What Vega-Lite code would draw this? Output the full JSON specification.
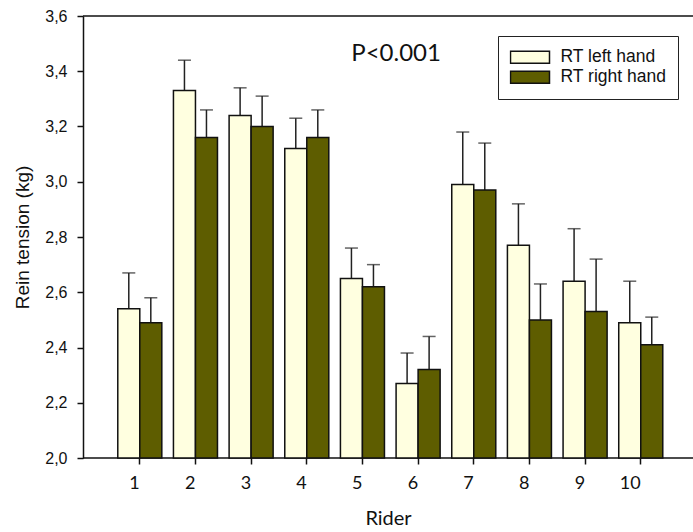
{
  "$schema": "https://vega.github.io/schema/vega-lite/v6.json",
  "width": 610,
  "height": 442,
  "autosize": {"type": "none"},
  "padding": {"left": 83, "top": 16, "right": 0, "bottom": 74},
  "background": "white",
  "config": {"view": {"stroke": null}},
  "data": {
    "values": [
      {"rider": 1, "hand": "RT left hand", "mean": 2.54, "upper": 2.67},
      {"rider": 1, "hand": "RT right hand", "mean": 2.49, "upper": 2.58},
      {"rider": 2, "hand": "RT left hand", "mean": 3.33, "upper": 3.44},
      {"rider": 2, "hand": "RT right hand", "mean": 3.16, "upper": 3.26},
      {"rider": 3, "hand": "RT left hand", "mean": 3.24, "upper": 3.34},
      {"rider": 3, "hand": "RT right hand", "mean": 3.20, "upper": 3.31},
      {"rider": 4, "hand": "RT left hand", "mean": 3.12, "upper": 3.23},
      {"rider": 4, "hand": "RT right hand", "mean": 3.16, "upper": 3.26},
      {"rider": 5, "hand": "RT left hand", "mean": 2.65, "upper": 2.76},
      {"rider": 5, "hand": "RT right hand", "mean": 2.62, "upper": 2.70},
      {"rider": 6, "hand": "RT left hand", "mean": 2.27, "upper": 2.38},
      {"rider": 6, "hand": "RT right hand", "mean": 2.32, "upper": 2.44},
      {"rider": 7, "hand": "RT left hand", "mean": 2.99, "upper": 3.18},
      {"rider": 7, "hand": "RT right hand", "mean": 2.97, "upper": 3.14},
      {"rider": 8, "hand": "RT left hand", "mean": 2.77, "upper": 2.92},
      {"rider": 8, "hand": "RT right hand", "mean": 2.50, "upper": 2.63},
      {"rider": 9, "hand": "RT left hand", "mean": 2.64, "upper": 2.83},
      {"rider": 9, "hand": "RT right hand", "mean": 2.53, "upper": 2.72},
      {"rider": 10, "hand": "RT left hand", "mean": 2.49, "upper": 2.64},
      {"rider": 10, "hand": "RT right hand", "mean": 2.41, "upper": 2.51}
    ]
  },
  "layer": [
    {
      "data": {"values": [{}]},
      "mark": {"type": "rule", "color": "#111", "strokeWidth": 1.5},
      "encoding": {"y": {"datum": 3.6}}
    },
    {
      "data": {"values": [{}]},
      "mark": {"type": "rule", "color": "#111", "strokeWidth": 1.5},
      "encoding": {"y": {"datum": 2.0}}
    },
    {
      "mark": {"type": "rule", "color": "#222", "strokeWidth": 1.5},
      "encoding": {
        "x": {"field": "rider", "type": "ordinal"},
        "xOffset": {"field": "hand", "type": "nominal"},
        "y": {"field": "mean", "type": "quantitative"},
        "y2": {"field": "upper"}
      }
    },
    {
      "mark": {"type": "tick", "color": "#222", "thickness": 1.5, "size": 13, "orient": "horizontal"},
      "encoding": {
        "x": {"field": "rider", "type": "ordinal"},
        "xOffset": {"field": "hand", "type": "nominal"},
        "y": {"field": "upper", "type": "quantitative"}
      }
    },
    {
      "mark": {"type": "bar", "stroke": "#111", "strokeWidth": 1.5},
      "encoding": {
        "x": {
          "field": "rider",
          "type": "ordinal",
          "scale": {"paddingInner": 0.209, "paddingOuter": 0.584, "align": 0.535},
          "axis": {
            "title": "Rider",
            "labelAngle": 0,
            "domain": false,
            "grid": false,
            "tickSize": 6,
            "tickColor": "#111",
            "tickWidth": 1.5,
            "labelFont": "Lato",
            "labelFontSize": 18,
            "labelColor": "#111",
            "labelPadding": 19,
            "titleFont": "Lato",
            "titleFontSize": 20,
            "titleFontWeight": "normal",
            "titleColor": "#111",
            "titlePadding": 16
          }
        },
        "xOffset": {"field": "hand", "type": "nominal", "scale": {"paddingInner": 0}},
        "y": {
          "field": "mean",
          "type": "quantitative",
          "scale": {"domain": [2, 3.6], "nice": false, "zero": false},
          "axis": {
            "values": [2, 2.2, 2.4, 2.6, 2.8, 3.0, 3.2, 3.4, 3.6],
            "labelExpr": "replace(format(datum.value, '.1f'), '.', ',')",
            "grid": false,
            "tickSize": 6,
            "tickColor": "#111",
            "tickWidth": 1.5,
            "domainColor": "#111",
            "domainWidth": 1.5,
            "labelFont": "Liberation Sans",
            "labelFontSize": 16,
            "labelColor": "#111",
            "labelPadding": 10,
            "title": "Rein tension (kg)",
            "titleFont": "Liberation Sans",
            "titleFontSize": 19,
            "titleFontWeight": "normal",
            "titleColor": "#111",
            "titlePadding": 12
          }
        },
        "y2": {"datum": 2},
        "fill": {
          "field": "hand",
          "type": "nominal",
          "scale": {"domain": ["RT left hand", "RT right hand"], "range": ["#FFFFE0", "#5E5D00"]},
          "legend": {
            "orient": "none",
            "legendX": 415,
            "legendY": 20,
            "title": null,
            "strokeColor": "#222",
            "padding": 11.5,
            "clipHeight": 19.5,
            "rowPadding": 0,
            "symbolType": "M-1,-0.31L1,-0.31L1,0.31L-1,0.31Z",
            "symbolSize": 1521,
            "symbolStrokeColor": "#111",
            "symbolStrokeWidth": 1.5,
            "labelFont": "Liberation Sans",
            "labelFontSize": 17.5,
            "labelColor": "#111",
            "labelOffset": 10
          }
        }
      }
    },
    {
      "data": {"values": [{"t": "P<0.001"}]},
      "mark": {"type": "text", "font": "Lato", "fontSize": 24, "color": "#111", "align": "center", "baseline": "middle", "dx": -22, "dy": 2},
      "encoding": {
        "x": {"datum": 6, "type": "ordinal"},
        "y": {"datum": 3.47, "type": "quantitative"},
        "text": {"field": "t"}
      }
    }
  ]
}
